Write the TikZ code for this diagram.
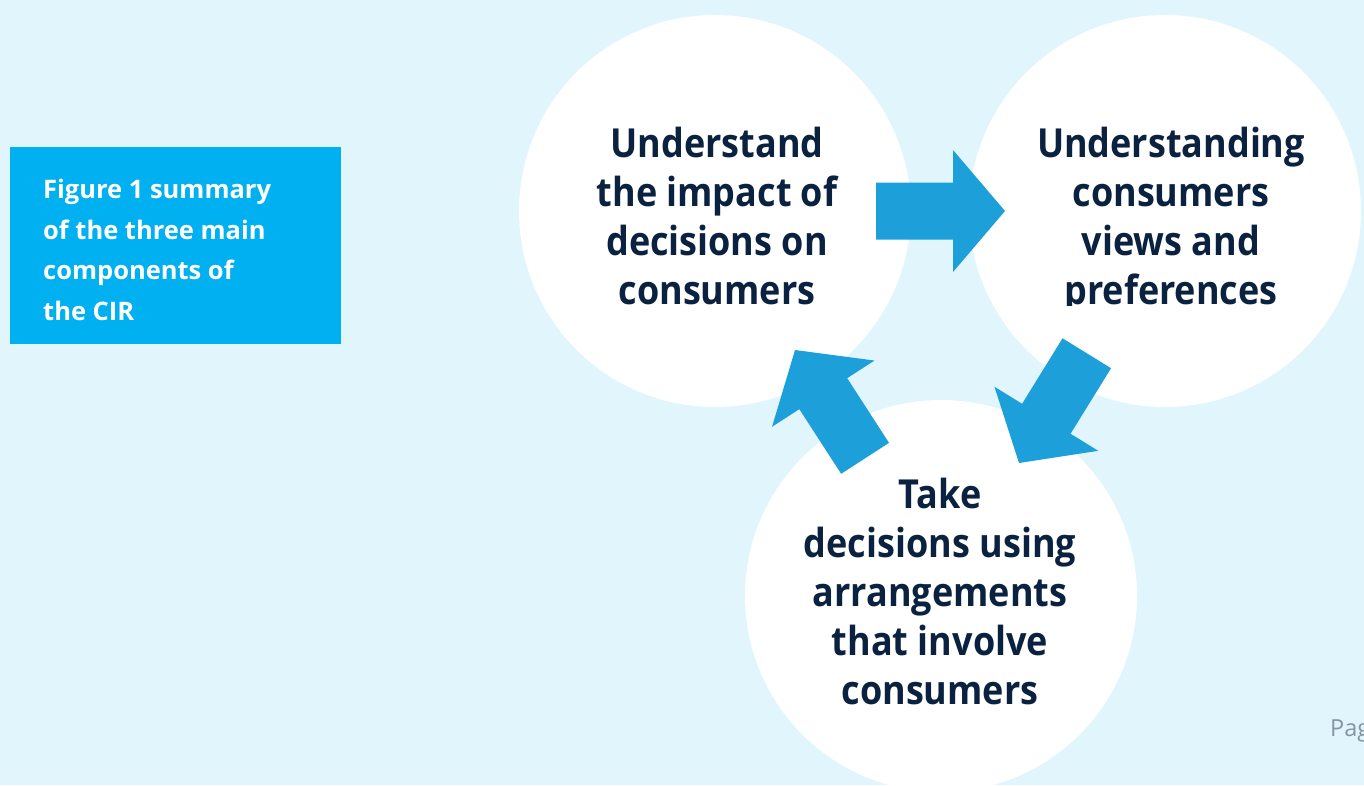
\documentclass[tikz,border=0pt]{standalone}
\usepackage{fontspec}
\setmainfont{Open Sans}
\newfontfamily\bubblefont{Open Sans}[FakeStretch=0.9]
\begin{document}
\begin{tikzpicture}[x=1pt,y=-1pt,
  bubble/.style={circle, fill=white, minimum size=392pt, inner sep=0pt},
  bubbletext/.style={text=navytext, align=center, inner sep=0pt, anchor=base,
    font=\bubblefont\fontsize{40}{49}\selectfont\bfseries},
  blockarrow/.pic={\fill[arrowblue] (0,0) -- (-52,61) -- (-52,28.5) -- (-129,28.5)
    -- (-129,-28.5) -- (-52,-28.5) -- (-52,-61) -- cycle;}]
\definecolor{bgblue}{RGB}{225,245,253}
\definecolor{boxblue}{RGB}{0,176,240}
\definecolor{arrowblue}{RGB}{29,160,218}
\definecolor{navytext}{RGB}{10,34,64}
\definecolor{pagegray}{RGB}{132,150,160}

% page background and frame
\fill[bgblue] (0,0) rectangle (1364,785);
\useasboundingbox (0,0) rectangle (1364,785);

% caption box (a multi-line node sits on the baseline of its last line)
\node[fill=boxblue, minimum width=331pt, minimum height=197pt, inner sep=0pt,
  anchor=north west] (capbox) at (10,147) {};
\node[text=white, align=left, inner sep=0pt, anchor=base west,
  font=\fontsize{25.5}{40.5}\selectfont\bfseries] (captext) at (43,320)
  {Figure 1 summary\\of the three main\\components of\\the CIR};

% the three bubbles
\node[bubble] (impact) at (715,211) {};
\node[bubble] (views) at (1165,211) {};
\node[bubble] (decide) at (941,596) {};

% bubble texts (the upper two are cut off along one line)
\begin{scope}
  \clip (500,0) rectangle (1364,305);
  \node[bubbletext] (impacttext) at (717,304)
    {Understand\\the impact of\\decisions on\\consumers};
  \node[bubbletext] (viewstext) at (1171,304)
    {Understanding\\consumers\\views and\\preferences};
\end{scope}
\node[bubbletext] (decidetext) at (940,704)
  {Take\\decisions using\\arrangements\\that involve\\consumers};

% block arrows between the bubbles
\coordinate (tipA) at (1005,211);
\coordinate (tipB) at (1019,463);
\coordinate (tipC) at (795,350);
\path (tipA) pic[rotate=0] {blockarrow};
\path (tipB) pic[rotate=-121.7] {blockarrow};
\path (tipC) pic[rotate=122.9] {blockarrow};

% page number, running off the edge
\node[text=pagegray, inner sep=0pt, anchor=base west,
  font=\fontsize{23.5}{28}\selectfont] (pagenum) at (1330,736) {Pag};
\end{tikzpicture}
\end{document}
